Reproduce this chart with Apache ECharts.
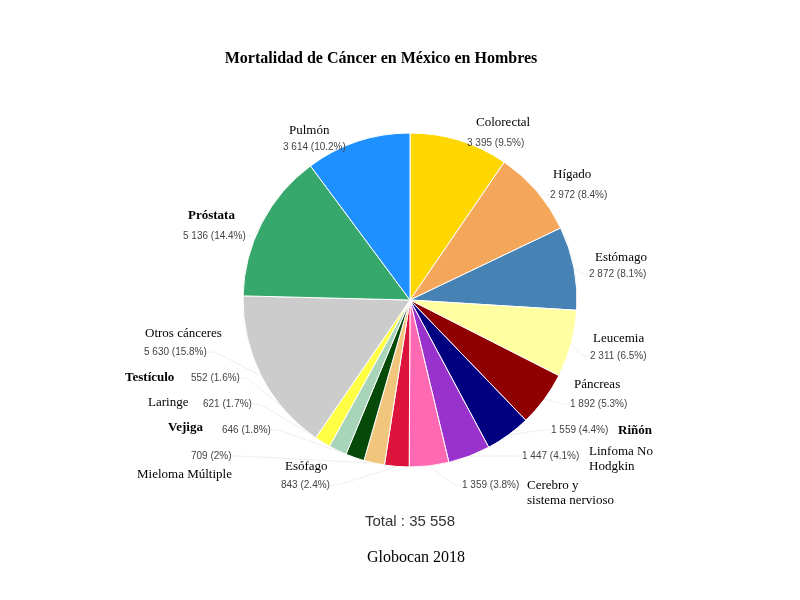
<!DOCTYPE html>
<html>
<head>
<meta charset="utf-8">
<script src="https://cdn.jsdelivr.net/npm/echarts@6/dist/echarts.min.js"></script>
<style>html,body{margin:0;padding:0;background:#fff}#c{width:800px;height:600px}</style>
</head>
<body>
<div id="c"></div>
<script>
// ---- data ----
const categories = ['Colorectal','Hígado','Estómago','Leucemia','Páncreas','Riñón','Linfoma No\nHodgkin','Cerebro y\nsistema nervioso','Esófago','Mieloma Múltiple','Vejiga','Laringe','Testículo','Otros cánceres','Próstata','Pulmón'];
const deaths = [3395,2972,2872,2311,1892,1559,1447,1359,843,709,646,621,552,5630,5136,3614];
const titleText = 'Mortalidad de Cáncer en México en Hombres';
const sourceText = 'Globocan 2018';

// ---- styles / layout (not data) ----
const colors = ['#FFD700','#F4A65A','#4682B4','#FFFFA2','#910000','#000080','#9932CC','#FF69B4','#DC143C','#F2C57C','#064A0A','#A8D5BA','#FFFF44','#CCCCCC','#36A86B','#1E90FF'];
const boldNames = ['Riñón','Vejiga','Testículo','Próstata'];
// label anchors [left x, middle y]
const namePos = [[476,123],[553,175],[595,258],[593,339],[574,385],[618,431],[589,459],[527,493],[285,467],[137,475],[168,428],[148,403],[125,378],[145,334],[188,216],[289,131]];
const valuePos = [[467,143],[550,195],[589,274],[590,356],[570,404],[551,430],[522,456],[462,485],[281,485],[191,456],[222,430],[203,404],[191,378],[144,352],[183,236],[283,147]];

const total = deaths.reduce((a,b)=>a+b,0);
function fmt(n){ return String(n).replace(/\B(?=(\d{3})+(?!\d))/g,' '); }
function pct(v){ let s=(v/total*100).toFixed(1); if(s.endsWith('.0')) s=s.slice(0,-2); return s; }

const pieData = categories.map((c,i)=>({name:c, value:deaths[i], itemStyle:{color:colors[i]}}));
const nameData = categories.map((c,i)=>({name:c, value:deaths[i],
  label:{fontWeight: boldNames.includes(c)?'bold':'normal'}}));

const chart = echarts.init(document.getElementById('c'));
chart.setOption({
  animation:false,
  title:[
    {text:titleText, left:381, top:51, padding:0, textAlign:'center',
     textStyle:{fontFamily:'Liberation Serif', fontWeight:'bold', fontSize:16, color:'#000'}},
    {text:'Total : '+fmt(total), left:410, top:514, padding:0, textAlign:'center',
     textStyle:{fontFamily:'Liberation Sans', fontWeight:'normal', fontSize:15, color:'#333'}},
    {text:sourceText, left:416, top:550, padding:0, textAlign:'center',
     textStyle:{fontFamily:'Liberation Serif', fontWeight:'normal', fontSize:16, color:'#000'}}
  ],
  series:[
    {
      type:'pie', center:[410,300], radius:167, startAngle:90, clockwise:true,
      avoidLabelOverlap:false,
      itemStyle:{borderColor:'#fff', borderWidth:1},
      data:pieData,
      label:{show:true, formatter:p=>fmt(p.value)+' ('+pct(p.value)+'%)',
        fontFamily:'Liberation Sans', fontSize:10, color:'#444'},
      labelLine:{show:true, length:8, length2:8, smooth:true, lineStyle:{color:'#ededed', width:1}},
      labelLayout:function(p){ const q=valuePos[p.dataIndex]; return {x:q[0], y:q[1], align:'left', verticalAlign:'middle'}; },
      emphasis:{disabled:true}
    },
    {
      type:'pie', center:[410,300], radius:167, startAngle:90, clockwise:true,
      avoidLabelOverlap:false, silent:true,
      itemStyle:{color:'rgba(0,0,0,0)', borderWidth:0},
      data:nameData,
      label:{show:true, formatter:'{b}', fontFamily:'Liberation Serif', fontSize:13, color:'#000', lineHeight:15, align:'left'},
      labelLine:{show:false},
      labelLayout:function(p){ const q=namePos[p.dataIndex]; return {x:q[0], y:q[1], align:'left', verticalAlign:'middle'}; },
      emphasis:{disabled:true}
    }
  ]
});
</script>
</body>
</html>
